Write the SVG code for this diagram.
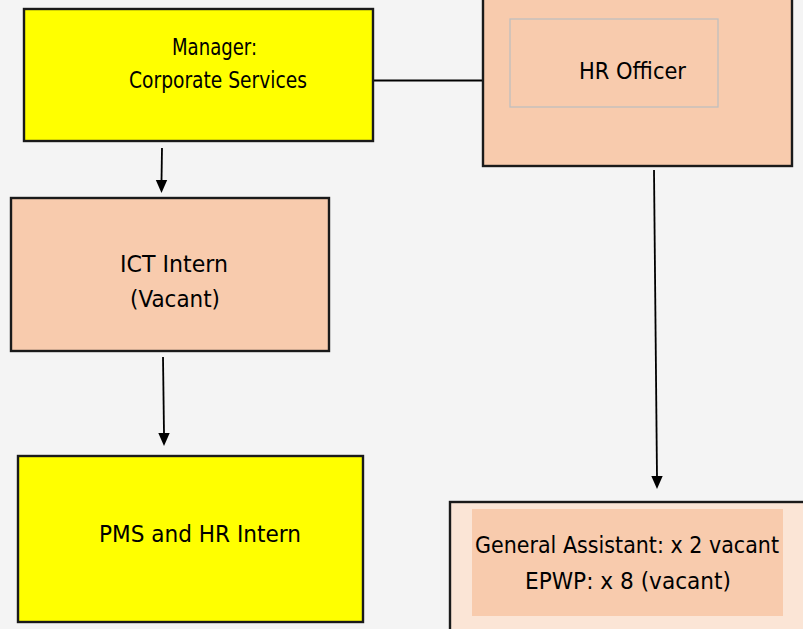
<svg xmlns="http://www.w3.org/2000/svg" width="803" height="629" viewBox="0 0 803 629">
  <style>
    .box { stroke: #1a1a1a; stroke-width: 2.4; }
    .yellow { fill: #ffff00; }
    .peach { fill: #f8cbad; }
    .pale { fill: #fbe5d6; }
    .inner { fill: none; stroke: #bfbfbf; stroke-width: 1.3; }
    .lbl { font-family: "DejaVu Sans", Verdana, sans-serif; font-size: 22.5px; fill: #000; }
    .line { stroke: #000; stroke-width: 1.8; fill: none; }
    .head { fill: #000; }
  </style>

  <rect x="0" y="0" width="803" height="629" fill="#f4f4f4"/>

  <!-- reporting lines with their filled arrowheads -->
  <g id="connectors">
    <line class="line" x1="368" y1="80.5" x2="484" y2="80.5"/>
    <path class="line" d="M162,148 L161.5,181"/>
    <path class="head" d="M155.8,180 L167.2,180 L161.5,193 Z"/>
    <path class="line" d="M163,357 L164,434"/>
    <path class="head" d="M158.3,433 L169.7,433 L164,446 Z"/>
    <path class="line" d="M654,170 L657,477"/>
    <path class="head" d="M651.3,476 L662.7,476 L657,489 Z"/>
  </g>

  <g id="manager">
    <rect class="box yellow" x="24" y="9" width="349" height="132"/>
    <text class="lbl" x="172" y="55" textLength="85" lengthAdjust="spacingAndGlyphs">Manager:</text>
    <text class="lbl" x="129" y="88" textLength="178" lengthAdjust="spacingAndGlyphs">Corporate  Services</text>
  </g>

  <g id="hr-officer">
    <rect class="box peach" x="483" y="-2" width="309" height="168"/>
    <rect class="inner" x="510" y="19" width="208" height="88"/>
    <text class="lbl" x="579" y="79" textLength="107" lengthAdjust="spacingAndGlyphs">HR Officer</text>
  </g>

  <g id="ict-intern">
    <rect class="box peach" x="11" y="198" width="318" height="153"/>
    <text class="lbl" x="120" y="272" textLength="108" lengthAdjust="spacingAndGlyphs">ICT Intern</text>
    <text class="lbl" x="130" y="307" textLength="90" lengthAdjust="spacingAndGlyphs">(Vacant)</text>
  </g>

  <g id="pms-hr-intern">
    <rect class="box yellow" x="18" y="456" width="345" height="166"/>
    <text class="lbl" x="99" y="542" textLength="202" lengthAdjust="spacingAndGlyphs">PMS and HR Intern</text>
  </g>

  <g id="general-assistant">
    <rect class="box pale" x="450" y="502" width="360" height="140"/>
    <rect class="peach" x="472" y="509" width="311" height="107"/>
    <text class="lbl" x="475" y="553" textLength="304" lengthAdjust="spacingAndGlyphs">General Assistant: x 2 vacant</text>
    <text class="lbl" x="525" y="589" textLength="206" lengthAdjust="spacingAndGlyphs">EPWP: x 8 (vacant)</text>
  </g>
</svg>
